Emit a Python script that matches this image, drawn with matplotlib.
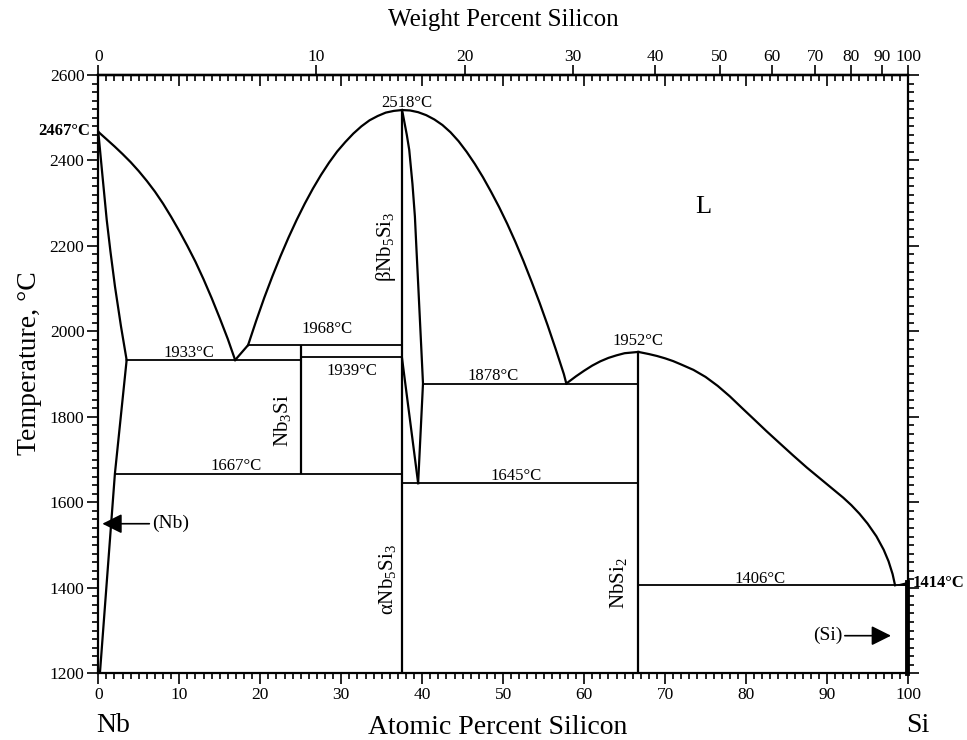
import matplotlib
matplotlib.use("Agg")
import matplotlib.pyplot as plt
from matplotlib.ticker import MultipleLocator, FixedLocator, NullFormatter

plt.rcParams['font.family'] = ['Liberation Serif', 'DejaVu Serif']
plt.rcParams['mathtext.fontset'] = 'custom'
plt.rcParams['mathtext.rm'] = 'Liberation Serif'
plt.rcParams['mathtext.it'] = 'Liberation Serif:italic'

# atomic masses used for the weight percent scale
M_NB = 92.906
M_SI = 28.086

# liquidus, Nb side (at% Si, deg C)
nb_liq_x = [0, 1, 2, 3, 4, 5, 6, 7, 8, 9, 10, 11, 12, 13, 14, 15, 16, 16.9]
nb_liq_t = [2467, 2450, 2433, 2415, 2396, 2375, 2352, 2327, 2299, 2268, 2235,
            2200, 2163, 2122, 2078, 2031, 1982, 1933]

# (Nb) solidus and solvus
nb_sol_x = [0, 0.5, 1.04, 1.5, 2.06, 2.8, 3.5]
nb_sol_t = [2467, 2367, 2261, 2187, 2105, 2012, 1933]
nb_solv_x = [3.5, 2.05, 0.2]
nb_solv_t = [1933, 1667, 1200]

# liquidus eutectic -> peritectic -> Nb5Si3 maximum
eut_x = [16.9, 18.5]
eut_t = [1933, 1968]
b53_left_x = [18.5, 19.5, 20.5, 21.5, 22.5, 23.5, 24.5, 25.5, 26.5, 27.5,
              28.5, 29.5, 30.5, 31.5, 32.5, 33.5, 34.5, 35.5, 36.5, 37.5]
b53_left_t = [1968, 2025, 2079, 2129, 2176, 2220, 2261, 2299, 2334, 2366,
              2395, 2421, 2443, 2463, 2480, 2494, 2504, 2512, 2516, 2518]
b53_right_x = [37.5, 38.5, 39.5, 40.5, 41.5, 42.5, 43.5, 44.5, 45.5, 46.5,
               47.5, 48.5, 49.5, 50.5, 51.5, 52.5, 53.5, 54.5, 55.5, 56.5,
               57.5, 57.8]
b53_right_t = [2518, 2517, 2513, 2506, 2496, 2483, 2466, 2445, 2420, 2392,
               2361, 2327, 2291, 2252, 2210, 2165, 2117, 2067, 2014, 1958,
               1900, 1878]

# beta Nb5Si3 homogeneity range
lens_r_x = [37.5, 37.6, 37.8, 38.1, 38.4, 38.8, 39.1, 39.3, 39.5, 39.7, 39.9,
            40.1, 39.5]
lens_r_t = [2518, 2510, 2490, 2460, 2425, 2345, 2269, 2190, 2113, 2035, 1957,
            1878, 1645]
lens_l_x = [37.5, 39.5]
lens_l_t = [1939, 1645]

# liquidus around NbSi2
nbsi2_left_x = [57.8, 59, 60, 61, 62, 63, 64, 65, 66.7]
nbsi2_left_t = [1878, 1895, 1908, 1920, 1930, 1938, 1944, 1949, 1952]
si_liq_x = [66.7, 68, 69, 70, 71, 72, 73.5, 75, 76.5, 78, 79.6, 81, 82.5, 84,
            85.8, 87.5, 89, 90.5, 92, 93, 94, 95, 96.1, 97, 97.6, 98.1, 98.4]
si_liq_t = [1952, 1947, 1942.5, 1937, 1930.5, 1922.5, 1910, 1893.5, 1872.5,
            1848, 1819, 1794, 1767, 1741, 1710, 1681.5, 1658, 1634.5, 1611,
            1593.5, 1573.5, 1550.5, 1520.5, 1489, 1462, 1432, 1406]
si_end_x = [98.3, 100, 100, 98.3]
si_end_t = [1406, 1414, 1404, 1406]

# invariant lines: temperature, x start, x end
iso_t = [1933, 1968, 1939, 1667, 1878, 1645, 1406]
iso_x0 = [3.5, 18.5, 25, 2.05, 40.1, 37.5, 66.7]
iso_x1 = [25, 37.5, 37.5, 37.5, 66.7, 66.7, 100]

# compounds: composition, lower and upper temperature
comp_x = [25, 37.5, 66.7]
comp_t0 = [1667, 1200, 1200]
comp_t1 = [1968, 2518, 1952]

# temperature labels: text, x, baseline T
temp_lbl = ['1933°C', '1968°C', '1939°C', '1667°C', '1878°C', '1645°C',
            '1406°C', '2518°C', '1952°C']
temp_lbl_x = [11.2, 28.2, 31.3, 17.0, 48.7, 51.6, 81.7, 38.1, 66.6]
temp_lbl_t = [1941, 1996, 1898, 1676, 1887, 1653, 1411, 2524, 1968]

wt_ticks = [0, 10, 20, 30, 40, 50, 60, 70, 80, 90, 100]


def wt_to_at(w):
    a = w / M_SI
    b = (100 - w) / M_NB
    return 100 * a / (a + b)


def at_to_wt(x):
    a = x * M_SI
    b = (100 - x) * M_NB
    return 100 * a / (a + b)


fig = plt.figure(figsize=(9.67, 7.4), dpi=100)
W, H = 967, 740
ax = fig.add_axes([98.3 / W, 1 - 673.3 / H, (908 - 98.3) / W,
                   (673.3 - 75) / H])
ax.set_xlim(0, 100)
ax.set_ylim(1200, 2600)

lw_c = 1.6
lw_h = 1.3
ax.plot(nb_liq_x, nb_liq_t, 'k', lw=lw_c)
ax.plot(nb_sol_x, nb_sol_t, 'k', lw=lw_c)
ax.plot(nb_solv_x, nb_solv_t, 'k', lw=lw_c)
ax.plot(eut_x, eut_t, 'k', lw=lw_c)
ax.plot(b53_left_x, b53_left_t, 'k', lw=lw_c)
ax.plot(b53_right_x, b53_right_t, 'k', lw=lw_c)
ax.plot(lens_r_x, lens_r_t, 'k', lw=lw_c)
ax.plot(lens_l_x, lens_l_t, 'k', lw=lw_c)
ax.plot(nbsi2_left_x, nbsi2_left_t, 'k', lw=lw_c)
ax.plot(si_liq_x, si_liq_t, 'k', lw=lw_c)
ax.fill(si_end_x, si_end_t, 'k', lw=1)
ax.hlines(iso_t, iso_x0, iso_x1, colors='k', lw=lw_h)
ax.vlines(comp_x, comp_t0, comp_t1, colors='k', lw=lw_c)
ax.plot([99.85, 99.85], [1200, 1414], 'k', lw=3.5, clip_on=False)

for s, x, t in zip(temp_lbl, temp_lbl_x, temp_lbl_t):
    ax.text(x, t, s, ha='center', va='baseline', fontsize=12)

ax.text(-1.0, 2469, '2467°C', ha='right', va='center', fontsize=12,
        fontweight='bold')
ax.text(100.6, 1412, '1414°C', ha='left', va='center', fontsize=12,
        fontweight='bold', clip_on=False)
ax.text(74.7, 2292, 'L', ha='center', va='center', fontsize=19)

ax.text(22.7, 1790, r'Nb$_3$Si', rotation=90, ha='center', va='center',
        fontsize=15)
ax.text(35.5, 2197, r'βNb$_5$Si$_3$', rotation=90, ha='center',
        va='center', fontsize=15)
ax.text(35.7, 1420, r'αNb$_5$Si$_3$', rotation=90, ha='center',
        va='center', fontsize=15)
ax.text(64.3, 1410, r'NbSi$_2$', rotation=90, ha='center', va='center',
        fontsize=15)

ax.annotate('', xy=(0.5, 1550), xytext=(6.3, 1550),
            arrowprops=dict(arrowstyle='-|>', mutation_scale=30, color='k',
                            lw=1.2, shrinkA=0, shrinkB=0))
ax.text(6.6, 1550, '(Nb)', ha='left', va='center', fontsize=14)
ax.annotate('', xy=(97.9, 1288), xytext=(92.2, 1288),
            arrowprops=dict(arrowstyle='-|>', mutation_scale=30, color='k',
                            lw=1.2, shrinkA=0, shrinkB=0))
ax.text(91.9, 1288, '(Si)', ha='right', va='center', fontsize=14)

# main ticks: bottom, left, right all outward
ax.xaxis.set_major_locator(MultipleLocator(10))
ax.xaxis.set_minor_locator(MultipleLocator(1))
ax.yaxis.set_major_locator(MultipleLocator(200))
ax.yaxis.set_minor_locator(MultipleLocator(20))
ax.tick_params(which='both', direction='out', top=False, right=True,
               labelright=False, width=1.2, labelsize=12.5, pad=2)
ax.tick_params(which='major', length=8)
ax.tick_params(which='minor', length=4)
for sp in ax.spines.values():
    sp.set_linewidth(1.6)

# atomic ticks along the top, pointing inward
top_at = ax.secondary_xaxis('top')
top_at.xaxis.set_major_locator(MultipleLocator(10))
top_at.xaxis.set_minor_locator(MultipleLocator(1))
top_at.xaxis.set_major_formatter(NullFormatter())
top_at.tick_params(which='both', direction='in', width=1.2)
top_at.tick_params(which='major', length=8)
top_at.tick_params(which='minor', length=4)
top_at.spines['top'].set_linewidth(1.6)

# weight percent scale on top, outward
top_wt = ax.secondary_xaxis('top', functions=(at_to_wt, wt_to_at))
top_wt.xaxis.set_major_locator(FixedLocator(wt_ticks))
top_wt.xaxis.set_minor_locator(FixedLocator([]))
top_wt.tick_params(which='major', direction='out', length=7, width=1.2,
                   labelsize=12.5, pad=0)
top_wt.spines['top'].set_linewidth(1.6)

fig.text(503 / W, 1 - 20 / H, 'Weight Percent Silicon', ha='center',
         va='center', fontsize=18)
fig.text(498 / W, 1 - 727 / H, 'Atomic Percent Silicon', ha='center',
         va='center', fontsize=20)
fig.text(113 / W, 1 - 726 / H, 'Nb', ha='center', va='center', fontsize=20)
fig.text(918 / W, 1 - 725 / H, 'Si', ha='center', va='center', fontsize=20)
fig.text(30 / W, 1 - 363 / H, 'Temperature, °C', ha='center', va='center',
         rotation=90, fontsize=20)

fig.savefig('out.png', dpi=100)
